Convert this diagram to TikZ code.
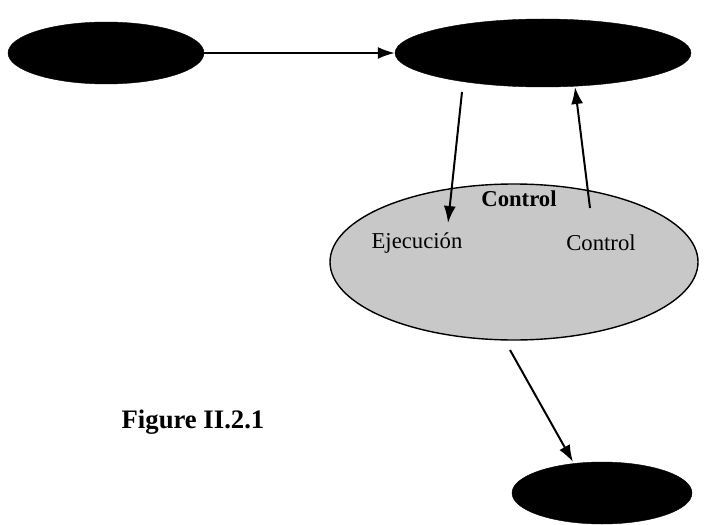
\documentclass[tikz,border=0pt]{standalone}
\usepackage{fontspec}
\setmainfont{Liberation Serif}
\usepackage{tikz}
\usetikzlibrary{arrows.meta}
\usetikzlibrary{shapes.geometric}
\definecolor{dither-grey}{RGB}{200,200,200}

\begin{document}
\begin{tikzpicture}[%
            x=1pt,y=-1pt,
            >={Latex[length=17pt,width=12pt]},
            blob/.style={ellipse,draw=black,fill=black,inner sep=0pt},
            cloud/.style={ellipse,draw=black,line width=1.4pt,fill=dither-grey,inner sep=0pt},
            link/.style={->,line width=2pt},
            lbl/.style={font=\fontsize{22.7}{26}\selectfont}
          ]
            \useasboundingbox (0,0) rectangle (708,524);

            \node [blob,minimum width=196pt,minimum height=62pt] (source) at (106,53) {};
            \node [blob,minimum width=296pt,minimum height=68pt] (process) at (543,53) {};
            \node [cloud,minimum width=368pt,minimum height=156pt] (control) at (514,262) {};
            \node [blob,minimum width=180pt,minimum height=62pt] (output) at (602,493) {};

            \node [lbl,font=\fontsize{22.7}{26}\selectfont\bfseries] (title) at (519,199) {Control};
            \node [lbl] (exec) at (417,243) {Ejecución};
            \node [lbl] (check) at (601,243) {Control};
            \node [font=\fontsize{26.7}{30}\selectfont\bfseries] (caption) at (193,422) {Figure II.2.1};

            \coordinate (downfrom) at (462,92);
            \coordinate (downto) at (448,223);
            \coordinate (upfrom) at (590,208);
            \coordinate (upto) at (575,87);
            \coordinate (outfrom) at (510,350);
            \coordinate (outto) at (573,462);

            \draw [link] (source.east) -- (process.west);
            \draw [link] (downfrom) -- (downto);
            \draw [link] (upfrom) -- (upto);
            \draw [link] (outfrom) -- (outto);
          \end{tikzpicture}
\end{document}
